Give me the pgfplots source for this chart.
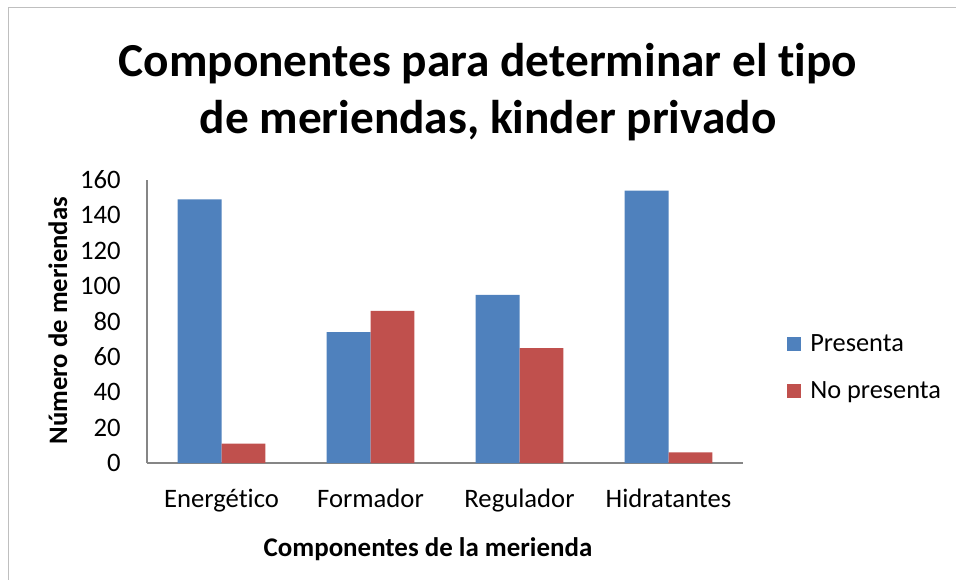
\documentclass[border=0pt]{standalone}
\usepackage{pgfplots}
\pgfplotsset{compat=1.18}
\usepackage{fontspec}
\setmainfont{Carlito}[Ligatures={NoCommon}]
\definecolor{barblue}{HTML}{4F81BD}
\definecolor{barred}{HTML}{C0504D}
\definecolor{axgray}{HTML}{868686}
\definecolor{framegray}{HTML}{BFBFBF}
\begin{document}
\begin{tikzpicture}
\clip (0pt,0pt) rectangle (717pt,434.25pt);
\draw[color=framegray, line width=0.75pt] (6pt,-10pt) rectangle (730pt,428.25pt);
\node[anchor=base, inner sep=0pt, font=\fontsize{35.5}{42}\selectfont\bfseries] at (366pt,376.5pt) {Componentes para determinar el tipo};
\node[anchor=base, inner sep=0pt, font=\fontsize{35.5}{42}\selectfont\bfseries] at (366pt,333.75pt) {de meriendas, kinder privado};
\begin{axis}[
  at={(110.25pt,87pt)}, anchor=south west,
  scale only axis, width=447pt, height=212.25pt,
  xmin=-0.5, xmax=3.5, ymin=0, ymax=160,
  axis lines=left,
  axis line style={-, draw=axgray, line width=1.1pt},
  ytick={0,20,40,60,80,100,120,140,160},
  xtick={0,1,2,3},
  xticklabels={Energético,Formador,Regulador,Hidratantes},
  major tick length=0pt,
  tick label style={font=\fontsize{20}{24}\selectfont, text=black},
  yticklabel style={anchor=base east, inner sep=0pt, xshift=-19.5pt, yshift=-6.4pt},
  xticklabel style={anchor=base, inner sep=0pt, yshift=-33pt},
  /pgf/number format/assume math mode=true,
  xlabel={Componentes de la merienda},
  xlabel style={font=\fontsize{20.2}{24}\selectfont\bfseries, at={(axis description cs:0.4715,-0.332)}, anchor=base, inner sep=0pt},
  ylabel={Número de meriendas},
  ylabel style={font=\fontsize{20}{24}\selectfont\bfseries, at={(axis description cs:-0.1342,0.5035)}, anchor=base, inner sep=0pt, rotate=0},
  ybar=0pt, bar width=0.295,
  legend style={at={(axis description cs:1.0738,0.337)}, anchor=west, draw=none, fill=none, inner sep=0pt,
    font=\fontsize{19.75}{24}\selectfont, row sep=21.5pt, column sep=6.75pt, nodes={inner sep=0pt}},
  legend cell align=left,
  legend image code/.code={\fill[#1] (0pt,-5.25pt) rectangle (10.5pt,5.25pt);},
]
\addplot[fill=barblue, draw=none] coordinates {(0,149) (1,74) (2,95) (3,154)};
\addplot[fill=barred, draw=none] coordinates {(0,11) (1,86) (2,65) (3,6)};
\legend{Presenta, No presenta}
\end{axis}
\end{tikzpicture}
\end{document}
